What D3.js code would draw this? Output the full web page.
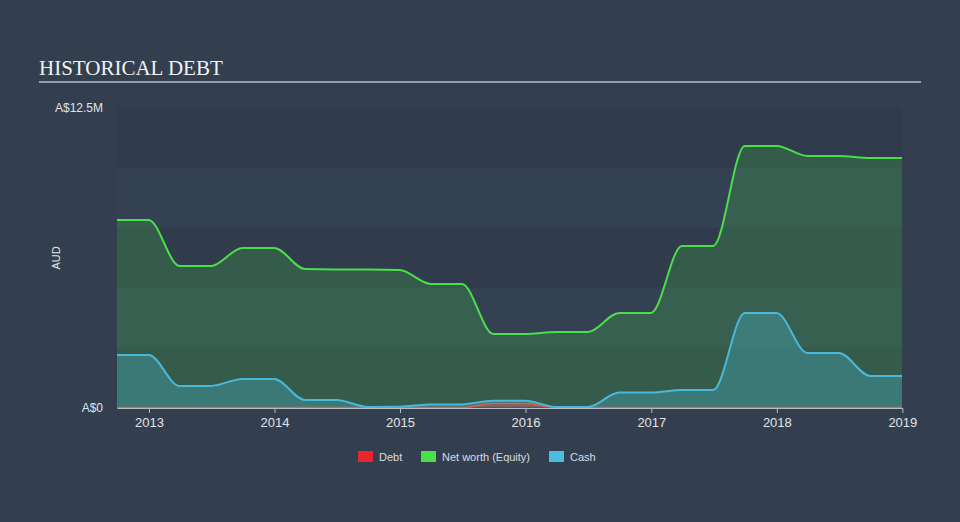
<!DOCTYPE html>
<html><head><meta charset="utf-8">
<script src="https://cdn.jsdelivr.net/npm/d3@7"></script>
<style>
html,body{margin:0;padding:0;background:#333f4f;}
svg{display:block;}
</style></head>
<body>
<svg id="chart" width="960" height="522"></svg>
<script>
const dates = ["2012-09-30","2012-12-31","2013-03-31","2013-06-30","2013-09-30","2013-12-31",
"2014-03-31","2014-06-30","2014-09-30","2014-12-31","2015-03-31","2015-06-30","2015-09-30",
"2015-12-31","2016-03-31","2016-06-30","2016-09-30","2016-12-31","2017-03-31","2017-06-30",
"2017-09-30","2017-12-31","2018-03-31","2018-06-30","2018-09-30","2018-12-31"];
const netWorth = [7.81,7.81,5.9,5.9,6.65,6.65,5.77,5.75,5.75,5.73,5.15,5.15,3.06,3.06,3.15,3.15,3.94,3.94,6.73,6.73,10.9,10.9,10.48,10.48,10.4,10.4];
const cash = [2.19,2.19,0.9,0.9,1.19,1.19,0.31,0.31,0.02,0.03,0.13,0.13,0.28,0.28,0.02,0.02,0.62,0.62,0.73,0.73,3.94,3.94,2.27,2.27,1.31,1.31];
const debt = [0,0,0,0,0,0,0,0,0,0,0,0,0.17,0.17,0,0,0,0,0,0,0,0,0,0,0,0];
const yTicks = [0, 12.5];
const yTickLabels = ["A$0", "A$12.5M"];
const xTickYears = [2013,2014,2015,2016,2017,2018,2019];
const legendItems = ["Debt","Net worth (Equity)","Cash"];

const parse = d3.utcParse("%Y-%m-%d");
const data = dates.map((d,i)=>({date:parse(d), nw:netWorth[i], cash:cash[i], debt:debt[i]}));

const svg = d3.select("#chart");
const L=117, R=902, T=107.5, B=407.5;
const x = d3.scaleUtc().domain([parse(dates[0]), parse(dates[dates.length-1])]).range([L,R]);
const y = d3.scaleLinear().domain([0,12.5]).range([B,T]);

// title
svg.append("text").attr("x",39).attr("y",75).text("HISTORICAL DEBT")
  .attr("font-family","Liberation Serif, serif").attr("font-size",21).attr("fill","#f2f2f2");
svg.append("line").attr("x1",39).attr("x2",921).attr("y1",82).attr("y2",82)
  .attr("stroke","#b9bec6").attr("stroke-width",1.5);

// background bands
const bands = d3.range(0,12.5,2.5);
svg.selectAll("rect.band").data(bands).enter().append("rect")
  .attr("x",L).attr("width",R-L)
  .attr("y",d=>y(d+2.5)).attr("height",d=>y(d)-y(d+2.5))
  .attr("fill",(d,i)=> i%2===0 ? "#303c4c" : "#344152");

const defs = svg.append("defs");
const pat = defs.append("pattern").attr("id","hatch").attr("patternUnits","userSpaceOnUse")
  .attr("width",4).attr("height",4).attr("patternTransform","rotate(45)");
pat.append("rect").attr("width",4).attr("height",4).attr("fill","rgba(230,60,60,0.25)");
pat.append("line").attr("x1",0).attr("y1",0).attr("x2",0).attr("y2",4).attr("stroke","rgba(230,70,70,0.6)").attr("stroke-width",1.5);

const curve = d3.curveMonotoneX;
function area(key){return d3.area().x(d=>x(d.date)).y0(y(0)).y1(d=>y(d[key])).curve(curve);}
function line(key){return d3.line().x(d=>x(d.date)).y(d=>y(d[key])).curve(curve);}

svg.append("path").datum(data).attr("d",area("nw")).attr("fill","rgba(76,220,76,0.2)");
svg.append("path").datum(data).attr("d",area("cash")).attr("fill","rgba(71,190,220,0.3)");
svg.append("path").datum(data).attr("d",area("debt")).attr("fill","url(#hatch)");

svg.append("path").datum(data).attr("d",line("nw")).attr("fill","none").attr("stroke","#4ade4a").attr("stroke-width",2);
svg.append("path").datum(data).attr("d",line("debt")).attr("fill","none").attr("stroke","#d9624f").attr("stroke-width",1.5);
svg.append("path").datum(data).attr("d",line("cash")).attr("fill","none").attr("stroke","#4ab8dc").attr("stroke-width",2);

// y labels
svg.selectAll("text.yl").data(yTicks).enter().append("text")
  .attr("x",103).attr("y",d=>y(d)+4).attr("text-anchor","end")
  .attr("font-family","Liberation Sans, Arial, sans-serif").attr("font-size",12).attr("fill","#e0e3e8")
  .text((d,i)=>yTickLabels[i]);
svg.append("text").attr("transform","translate(60,258) rotate(-90)").attr("text-anchor","middle")
  .attr("font-family","Liberation Sans, Arial, sans-serif").attr("font-size",11).attr("fill","#e0e3e8").text("AUD");

// x axis
const xAxis = d3.axisBottom(x).tickValues(xTickYears.map(yr=>new Date(Date.UTC(yr,0,1))))
  .tickFormat(d3.utcFormat("%Y")).tickSize(5).tickSizeOuter(0);
const gx = svg.append("g").attr("transform",`translate(0,${B+0.5})`).call(xAxis);
gx.select(".domain").attr("stroke","#b9bec6");
gx.selectAll(".tick line").attr("stroke","#b9bec6");
gx.selectAll(".tick text").attr("fill","#e0e3e8").attr("font-size",13)
  .attr("font-family","Liberation Sans, Arial, sans-serif").attr("dy","0.85em");

// legend
const legColors = ["#e8262b","#4ae04a","#4cbde0"];
const legX = [358,421,549];
legendItems.forEach((t,i)=>{
  svg.append("rect").attr("x",legX[i]).attr("y",451).attr("width",15).attr("height",11).attr("fill",legColors[i]);
  svg.append("text").attr("x",legX[i]+21).attr("y",461).text(t)
    .attr("font-family","Liberation Sans, Arial, sans-serif").attr("font-size",11).attr("fill","#d8dce2");
});
</script>
</body></html>
